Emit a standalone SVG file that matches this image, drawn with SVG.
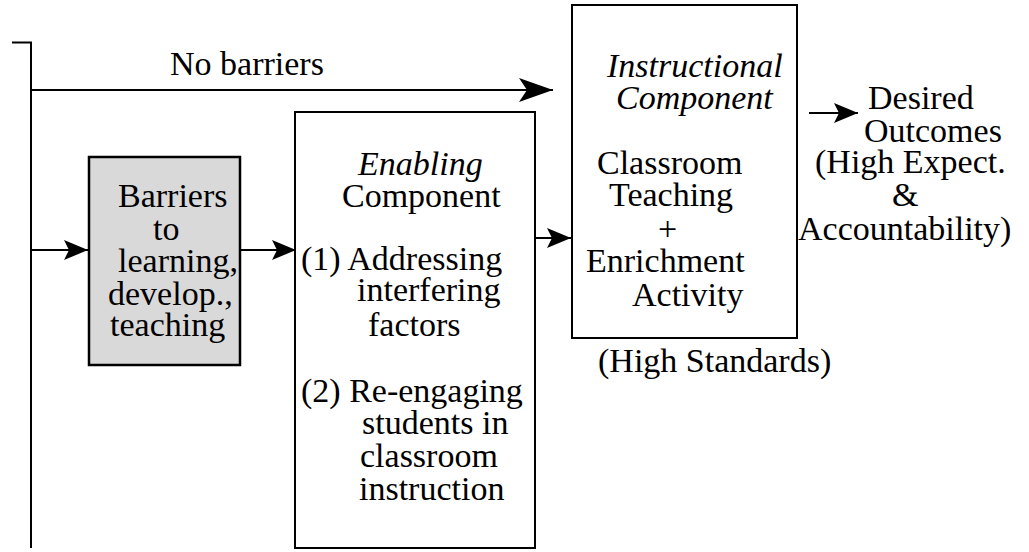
<svg xmlns="http://www.w3.org/2000/svg" width="1029" height="552" viewBox="0 0 1029 552">
<style>
text{font-family:"Liberation Serif","Times New Roman",serif;font-size:34px;fill:#000}
.it{font-style:italic}
.box{fill:#fff;stroke:#000;stroke-width:2}
.gray{fill:#d9d9d9;stroke:#000;stroke-width:2.5}
.ln{fill:none;stroke:#000;stroke-width:2}
</style>
<defs>
<marker id="big" markerUnits="userSpaceOnUse" markerWidth="40" markerHeight="30" refX="34" refY="12" orient="auto" overflow="visible">
<path d="M34,12 L0,0 L8,12 L0,24 Z" fill="#000"/>
</marker>
<marker id="sm" markerUnits="userSpaceOnUse" markerWidth="30" markerHeight="24" refX="24" refY="10" orient="auto" overflow="visible">
<path d="M24,10 L0,0 L5,10 L0,20 Z" fill="#000"/>
</marker>
</defs>
<rect width="1029" height="552" fill="#fff"/>
<g id="connectors">
<path class="ln" d="M12,42.5 H31 V548"/>
<path class="ln" d="M31,90 H553" marker-end="url(#big)"/>
<path class="ln" d="M31,250 H88" marker-end="url(#sm)"/>
<path class="ln" d="M240,250 H296" marker-end="url(#sm)"/>
<path class="ln" d="M525,238 H571" marker-end="url(#sm)"/>
<path class="ln" d="M809,113 H858" marker-end="url(#sm)"/>
<text x="170" y="75">No barriers</text>
</g>
<g id="barriers">
<rect class="gray" x="89" y="157" width="151" height="208"/>
<text x="118" y="207">Barriers</text>
<text x="153" y="240">to</text>
<text x="118" y="272">learning,</text>
<text x="108" y="305">develop.,</text>
<text x="110" y="336">teaching</text>
</g>
<g id="enabling">
<rect class="box" x="295" y="112" width="240" height="436"/>
<text class="it" x="358" y="175">Enabling</text>
<text x="342" y="207">Component</text>
<text x="301" y="270">(1) Addressing</text>
<text x="357" y="301">interfering</text>
<text x="368" y="336">factors</text>
<text x="301" y="402">(2) Re-engaging</text>
<text x="362" y="434">students in</text>
<text x="360" y="467">classroom</text>
<text x="359" y="500">instruction</text>
</g>
<g id="instructional">
<rect class="box" x="572" y="5" width="225" height="333"/>
<text class="it" x="607" y="77">Instructional</text>
<text class="it" x="616" y="109">Component</text>
<text x="597" y="174">Classroom</text>
<text x="609" y="206">Teaching</text>
<text x="658" y="240">+</text>
<text x="586" y="272">Enrichment</text>
<text x="632" y="306">Activity</text>
<text x="598" y="372">(High Standards)</text>
</g>
<g id="outcomes">
<text x="868" y="109">Desired</text>
<text x="864" y="142">Outcomes</text>
<text x="815" y="173">(High Expect.</text>
<text x="892" y="206">&amp;</text>
<text x="798" y="240">Accountability)</text>
</g>
</svg>
